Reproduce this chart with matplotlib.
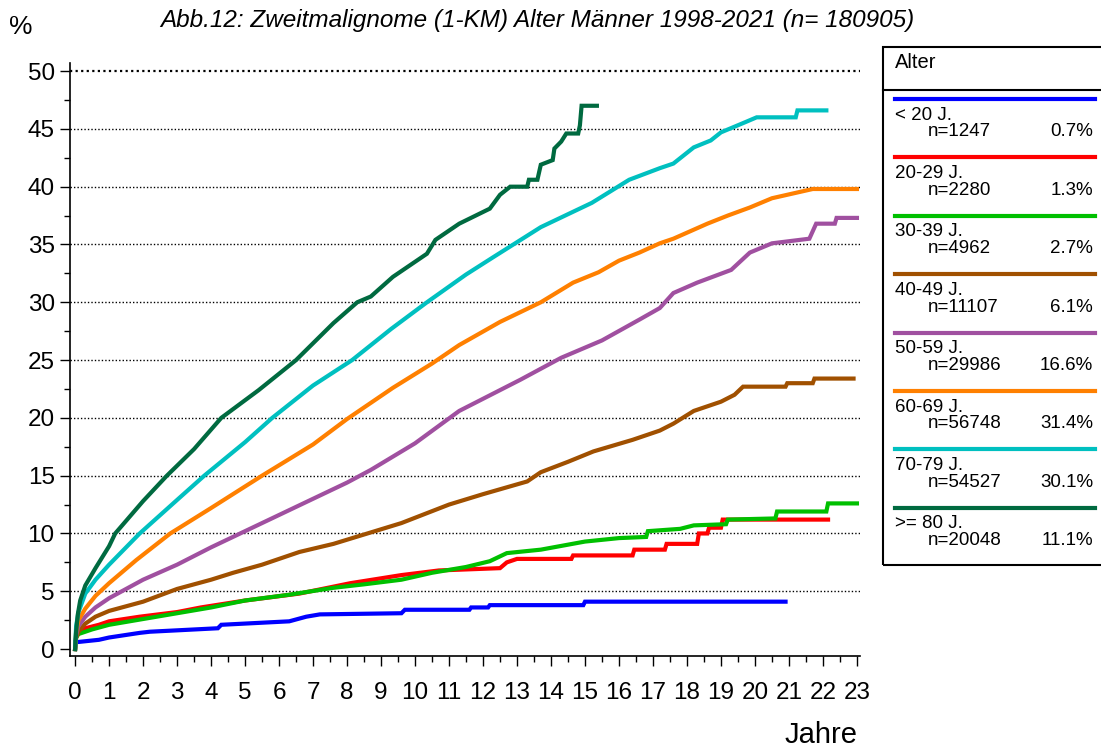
import matplotlib
matplotlib.use("Agg")
import matplotlib.pyplot as plt
from matplotlib.lines import Line2D
from matplotlib.patches import Rectangle
from matplotlib.ticker import MultipleLocator

plt.rcParams['font.family'] = ['Liberation Sans', 'DejaVu Sans']

# --- data (years, cumulative %) ---
labels = ["< 20 J.", "20-29 J.", "30-39 J.", "40-49 J.", "50-59 J.", "60-69 J.", "70-79 J.", ">= 80 J."]
n_text = ["n=1247", "n=2280", "n=4962", "n=11107", "n=29986", "n=56748", "n=54527", "n=20048"]
pct_text = ["0.7%", "1.3%", "2.7%", "6.1%", "16.6%", "31.4%", "30.1%", "11.1%"]
colors = ["#0000FF", "#FF0000", "#00C000", "#A05000", "#A050A0", "#FF8000", "#00C0C0", "#006A40"]

t_u20 = [0, 0.05, 0.7, 1.0, 1.9, 2.2, 4.2, 4.3, 6.3, 6.8, 7.2, 9.6, 9.7, 11.6, 11.65, 12.15, 12.2, 14.95, 15.0, 20.9]
v_u20 = [0.6, 0.6, 0.8, 1.0, 1.4, 1.5, 1.8, 2.1, 2.4, 2.8, 3.0, 3.1, 3.4, 3.4, 3.6, 3.6, 3.8, 3.8, 4.1, 4.1]

t_20 = [0, 0.03, 0.1, 0.3, 0.7, 1.0, 1.9, 3.0, 3.7, 5.0, 6.6, 8.1, 9.6, 10.7, 12.5, 12.7, 13.0, 14.6, 14.65,
        16.4, 16.45, 17.35, 17.4, 18.3, 18.35, 18.6, 18.65, 19.0, 19.05, 22.15]
v_20 = [0, 1.0, 1.5, 1.8, 2.1, 2.4, 2.8, 3.2, 3.6, 4.2, 4.8, 5.7, 6.4, 6.8, 7.0, 7.5, 7.8, 7.8, 8.1,
        8.1, 8.6, 8.6, 9.1, 9.1, 10.0, 10.0, 10.5, 10.5, 11.2, 11.2]

t_30 = [0, 0.03, 0.1, 0.5, 1.0, 2.0, 3.0, 4.0, 5.0, 6.3, 7.6, 8.5, 9.6, 10.5, 11.5, 12.2, 12.7, 13.7, 15.0, 16.0,
        16.8, 16.85, 17.8, 18.2, 19.15, 19.2, 20.6, 20.65, 22.1, 22.15, 23.0]
v_30 = [0, 1.0, 1.3, 1.7, 2.1, 2.6, 3.1, 3.6, 4.2, 4.7, 5.3, 5.6, 6.0, 6.6, 7.1, 7.6, 8.3, 8.6, 9.3, 9.6,
        9.7, 10.2, 10.4, 10.7, 10.8, 11.2, 11.3, 11.9, 11.9, 12.6, 12.6]

t_40 = [0, 0.03, 0.1, 0.3, 0.6, 1.0, 2.0, 3.0, 4.0, 4.65, 5.5, 6.6, 7.6, 8.6, 9.6, 11.0, 12.0, 13.3, 13.7, 14.5,
        15.25, 16.4, 17.2, 17.6, 18.2, 19.0, 19.4, 19.65, 20.9, 20.95, 21.7, 21.75, 22.9]
v_40 = [0, 1.0, 1.5, 2.2, 2.8, 3.3, 4.1, 5.2, 6.0, 6.6, 7.3, 8.4, 9.1, 10.0, 10.9, 12.5, 13.4, 14.5, 15.3, 16.2,
        17.1, 18.1, 18.9, 19.5, 20.6, 21.4, 22.0, 22.7, 22.7, 23.0, 23.0, 23.4, 23.4]

t_50 = [0, 0.03, 0.1, 0.3, 0.6, 1.0, 2.0, 3.0, 4.0, 5.0, 6.0, 7.0, 8.0, 8.7, 10.0, 11.3, 12.5, 13.1, 14.3, 15.5,
        16.6, 17.2, 17.6, 18.3, 19.3, 19.85, 20.5, 21.6, 21.8, 22.35, 22.4, 23.0]
v_50 = [0, 1.2, 2.0, 2.8, 3.6, 4.4, 6.0, 7.3, 8.8, 10.2, 11.6, 13.0, 14.4, 15.5, 17.8, 20.6, 22.4, 23.3, 25.2, 26.7,
        28.5, 29.5, 30.8, 31.7, 32.8, 34.3, 35.1, 35.5, 36.8, 36.8, 37.3, 37.3]

t_60 = [0, 0.03, 0.1, 0.3, 0.6, 1.0, 1.8, 2.8, 4.0, 5.5, 7.0, 8.0, 9.35, 10.5, 11.3, 12.5, 13.7, 14.65, 15.4, 16.0,
        16.6, 17.2, 17.6, 18.6, 19.2, 19.85, 20.5, 21.1, 21.7, 23.0]
v_60 = [0, 1.5, 2.5, 3.5, 4.6, 5.7, 7.7, 10.0, 12.2, 15.0, 17.7, 19.9, 22.6, 24.7, 26.3, 28.3, 30.0, 31.7, 32.6, 33.6,
        34.3, 35.1, 35.5, 36.8, 37.5, 38.2, 39.0, 39.4, 39.8, 39.8]

t_70 = [0, 0.03, 0.1, 0.3, 0.6, 1.0, 1.9, 3.0, 3.8, 5.0, 5.8, 7.0, 8.15, 9.3, 10.35, 11.5, 12.3, 13.7, 15.2, 16.3,
        17.2, 17.6, 18.2, 18.7, 19.0, 19.65, 20.05, 21.2, 21.25, 22.1]
v_70 = [0, 2.0, 3.2, 4.8, 6.0, 7.3, 10.0, 12.9, 15.0, 17.9, 20.0, 22.8, 25.0, 27.7, 30.0, 32.4, 33.9, 36.5, 38.6, 40.6,
        41.6, 42.0, 43.4, 44.0, 44.7, 45.5, 46.0, 46.0, 46.6, 46.6]

t_80 = [0, 0.03, 0.08, 0.15, 0.3, 0.6, 1.0, 1.18, 2.0, 2.7, 3.5, 4.3, 5.4, 6.5, 7.6, 8.3, 8.7, 9.35, 10.35, 10.6,
        11.3, 12.2, 12.5, 12.8, 13.3, 13.35, 13.6, 13.7, 14.05, 14.1, 14.3, 14.45, 14.8, 14.85, 14.9, 15.35]
v_80 = [0, 1.5, 3.0, 4.2, 5.5, 7.0, 8.9, 10.0, 12.8, 15.0, 17.3, 20.0, 22.4, 25.0, 28.2, 30.0, 30.5, 32.2, 34.2, 35.4,
        36.8, 38.1, 39.3, 40.0, 40.0, 40.6, 40.6, 41.9, 42.3, 43.3, 43.9, 44.6, 44.6, 45.3, 47.0, 47.0]

series_t = [t_u20, t_20, t_30, t_40, t_50, t_60, t_70, t_80]
series_v = [v_u20, v_20, v_30, v_40, v_50, v_60, v_70, v_80]

W, H = 1101, 751
fig = plt.figure(figsize=(W / 100, H / 100), dpi=100)


def fx(x):
    return x / W


def fy(y):
    return 1 - y / H


ax = fig.add_axes([fx(70), fy(656), fx(860) - fx(70), fy(63) - fy(656)])

for t, v, c in zip(series_t, series_v, colors):
    ax.plot(t, v, color=c, lw=3, solid_joinstyle='miter')

ax.set_xlim(-0.15, 23.09)
ax.set_ylim(-0.6, 50.7)
for g in range(5, 55, 5):
    ax.axhline(g, color='black', lw=1.6 if g == 50 else 1.0, ls=(0, (1, 1.5)), zorder=0)

ax.spines['top'].set_visible(False)
ax.spines['right'].set_visible(False)
ax.spines['left'].set_linewidth(1.2)
ax.spines['bottom'].set_linewidth(1.2)
ax.xaxis.set_major_locator(MultipleLocator(1))
ax.xaxis.set_minor_locator(MultipleLocator(0.5))
ax.yaxis.set_major_locator(MultipleLocator(5))
ax.yaxis.set_minor_locator(MultipleLocator(2.5))
ax.tick_params(which='major', length=7, width=1, labelsize=17.5, pad=12)
ax.tick_params(which='minor', length=4.5, width=1)
ax.tick_params(axis='y', which='major', pad=4)

fig.text(fx(537), fy(21), "Abb.12: Zweitmalignome (1-KM) Alter Männer 1998-2021 (n= 180905)",
         ha='center', va='center', fontsize=17.5, style='italic')
fig.text(fx(9), fy(27), "%", ha='left', va='center', fontsize=19)
fig.text(fx(858), fy(735), "Jahre", ha='right', va='center', fontsize=21)

# legend box
fig.add_artist(Rectangle((fx(883), fy(565)), fx(1110) - fx(883), fy(47) - fy(565),
                         transform=fig.transFigure, fill=False, lw=1.5, ec='black', clip_on=False))
fig.add_artist(Line2D([fx(883), fx(1101)], [fy(90), fy(90)], color='black', lw=1.5))
fig.text(fx(895), fy(63), "Alter", ha='left', va='center', fontsize=14.5)
for i in range(8):
    y0 = 99 + 58.4 * i
    fig.add_artist(Line2D([fx(895), fx(1095)], [fy(y0), fy(y0)], color=colors[i], lw=3))
    fig.text(fx(895), fy(y0 + 16), labels[i], ha='left', va='center', fontsize=13.5)
    fig.text(fx(928), fy(y0 + 33), n_text[i], ha='left', va='center', fontsize=13.5)
    fig.text(fx(1093), fy(y0 + 33), pct_text[i], ha='right', va='center', fontsize=13.5)

fig.savefig("out.png", dpi=100)
